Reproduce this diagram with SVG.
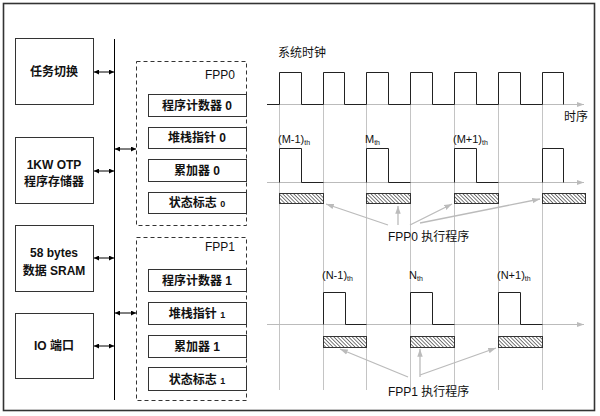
<svg xmlns="http://www.w3.org/2000/svg" width="600" height="416" viewBox="0 0 600 416">
<defs>
<marker id="ah" viewBox="0 0 10 10" refX="10" refY="5" markerWidth="5" markerHeight="5" orient="auto-start-reverse"><path d="M0,0 L10,5 L0,10 z" fill="#000"/></marker>
<marker id="ga" viewBox="0 0 10 10" refX="10" refY="5" markerWidth="6" markerHeight="6" orient="auto"><path d="M0,1.5 L10,5 L0,8.5 z" fill="#bbb"/></marker>
<pattern id="hatch" patternUnits="userSpaceOnUse" width="2.6" height="2.6" patternTransform="rotate(-45)"><rect width="2.6" height="2.6" fill="#fff"/><line x1="0" y1="0" x2="0" y2="2.6" stroke="#222" stroke-width="1.2"/></pattern>
</defs>
<style>
text{font-family:"Liberation Sans","Noto Sans CJK SC",sans-serif;fill:#111}
.box{fill:#fff;stroke:#333;stroke-width:1}
.dash{fill:none;stroke:#333;stroke-width:1;stroke-dasharray:4,3}
.lbl{font-size:12px;font-weight:bold;text-anchor:middle}
.reg{font-size:12px;text-anchor:middle}
.bus{stroke:#000;stroke-width:1;marker-start:url(#ah);marker-end:url(#ah)}
.grid{stroke:#c4c4c4;stroke-width:1;fill:none}
.axis{stroke:#bbb;stroke-width:1.2;fill:none;marker-end:url(#ga)}
.wave{stroke:#222;stroke-width:1;fill:none}
.bar{fill:url(#hatch);stroke:#333;stroke-width:1}
.ptr{stroke:#bbb;stroke-width:1.3;fill:none;marker-end:url(#ga)}
.tl{font-size:11px}
.cn{font-size:12px}
.sub{font-size:7px}
</style>
<rect x="0" y="0" width="600" height="416" fill="#fff"/>
<rect x="3.5" y="3.5" width="591" height="407" fill="none" stroke="#333" stroke-width="1.6"/>

<g id="n-task"><rect class="box" x="15.5" y="38.5" width="78" height="66"/><text class="lbl" x="54" y="76">任务切换</text></g>
<g id="n-otp"><rect class="box" x="15.5" y="137.5" width="78" height="66"/><text class="lbl" x="54" y="169">1KW OTP</text><text class="lbl" x="54" y="186">程序存储器</text></g>
<g id="n-sram"><rect class="box" x="15.5" y="225.5" width="78" height="66"/><text class="lbl" x="54" y="257">58 bytes</text><text class="lbl" x="54" y="275">数据 SRAM</text></g>
<g id="n-io"><rect class="box" x="15.5" y="313.5" width="78" height="65"/><text class="lbl" x="54" y="350">IO  端口</text></g>

<g id="n-fpp0">
<rect class="dash" x="136.5" y="61.5" width="110" height="164"/>
<text class="reg" x="220" y="79">FPP0</text>
<rect class="box" x="148.5" y="94.5" width="98" height="22"/><text class="lbl" x="197" y="110">程序计数器 0</text>
<rect class="box" x="148.5" y="127.5" width="98" height="21"/><text class="lbl" x="197" y="142">堆栈指针 0</text>
<rect class="box" x="148.5" y="159.5" width="98" height="22"/><text class="lbl" x="197" y="175">累加器 0</text>
<rect class="box" x="148.5" y="192.5" width="98" height="21"/><text class="lbl" x="197" y="207">状态标志 <tspan font-size="9">0</tspan></text>
</g>
<g id="n-fpp1">
<rect class="dash" x="136.5" y="237.5" width="110" height="163"/>
<text class="reg" x="220" y="251">FPP1</text>
<rect class="box" x="148.5" y="269.5" width="98" height="22"/><text class="lbl" x="197" y="285">程序计数器 1</text>
<rect class="box" x="148.5" y="302.5" width="98" height="22"/><text class="lbl" x="197" y="318">堆栈指针 <tspan font-size="9">1</tspan></text>
<rect class="box" x="148.5" y="335.5" width="98" height="22"/><text class="lbl" x="197" y="351">累加器 1</text>
<rect class="box" x="148.5" y="367.5" width="98" height="23"/><text class="lbl" x="197" y="384">状态标志 <tspan font-size="9">1</tspan></text>
</g>

<g id="connectors">
<line x1="114.5" y1="39" x2="114.5" y2="400" stroke="#000" stroke-width="1"/>
<line class="bus" x1="94" y1="72" x2="114" y2="72"/>
<line class="bus" x1="94" y1="171" x2="114" y2="171"/>
<line class="bus" x1="94" y1="258" x2="114" y2="258"/>
<line class="bus" x1="94" y1="346" x2="114" y2="346"/>
<line class="bus" x1="115" y1="149" x2="136" y2="149"/>
<line class="bus" x1="115" y1="313" x2="136" y2="313"/>
</g>

<g id="timing">
<text class="cn" x="278" y="57">系统时钟</text>
<text class="cn" x="564" y="121">时序</text>
<path class="grid" d="M279.5,72V390M323.5,72V390M366.5,72V390M410.5,72V390M454.5,72V390M498.5,72V390M542.5,72V390"/>
<line class="axis" x1="267" y1="104.5" x2="584" y2="104.5"/>
<line class="axis" x1="267" y1="182.5" x2="584" y2="182.5"/>
<line class="axis" x1="267" y1="324.5" x2="584" y2="324.5"/>
<path class="wave" d="M267,104.5H279.5V72.5H301.5V104.5H323.5V72.5H344.5V104.5H366.5V72.5H388.5V104.5H410.5V72.5H432.5V104.5H454.5V72.5H476.5V104.5H498.5V72.5H520.5V104.5H542.5V72.5H563.5V104.5"/>
<path class="wave" d="M279.5,182.5V148.5H301.5V182.5H323.5M366.5,182.5V148.5H388.5V182.5H410.5M454.5,182.5V148.5H476.5V182.5H498.5M542.5,182.5V148.5H563.5V182.5"/>
<path class="wave" d="M323.5,324.5V292.5H345.5V324.5H366.5M410.5,324.5V292.5H432.5V324.5H454.5M498.5,324.5V292.5H520.5V324.5H542.5"/>
<text class="tl" x="278" y="143">(M-1)<tspan class="sub" dy="2">th</tspan></text>
<text class="tl" x="365" y="143">M<tspan class="sub" dy="2">th</tspan></text>
<text class="tl" x="453" y="143">(M+1)<tspan class="sub" dy="2">th</tspan></text>
<text class="tl" x="322" y="279">(N-1)<tspan class="sub" dy="2">th</tspan></text>
<text class="tl" x="409" y="279">N<tspan class="sub" dy="2">th</tspan></text>
<text class="tl" x="497" y="279">(N+1)<tspan class="sub" dy="2">th</tspan></text>
<rect class="bar" x="279.5" y="193.5" width="44" height="10"/>
<rect class="bar" x="366.5" y="193.5" width="44" height="10"/>
<rect class="bar" x="454.5" y="193.5" width="44" height="10"/>
<rect class="bar" x="542.5" y="193.5" width="43" height="10"/>
<rect class="bar" x="323.5" y="336.5" width="43" height="11"/>
<rect class="bar" x="410.5" y="336.5" width="44" height="11"/>
<rect class="bar" x="498.5" y="336.5" width="44" height="11"/>
<path class="ptr" d="M388,225L326,204"/>
<path class="ptr" d="M398,225L398,206"/>
<path class="ptr" d="M410,225L452,204"/>
<path class="ptr" d="M420,223L540,199"/>
<text class="cn" x="388" y="241">FPP0  执行程序</text>
<path class="ptr" d="M408,377L340,349"/>
<path class="ptr" d="M420,377L420,349"/>
<path class="ptr" d="M420,375L496,348"/>
<text class="cn" x="388" y="396">FPP1 执行程序</text>
</g>
</svg>
